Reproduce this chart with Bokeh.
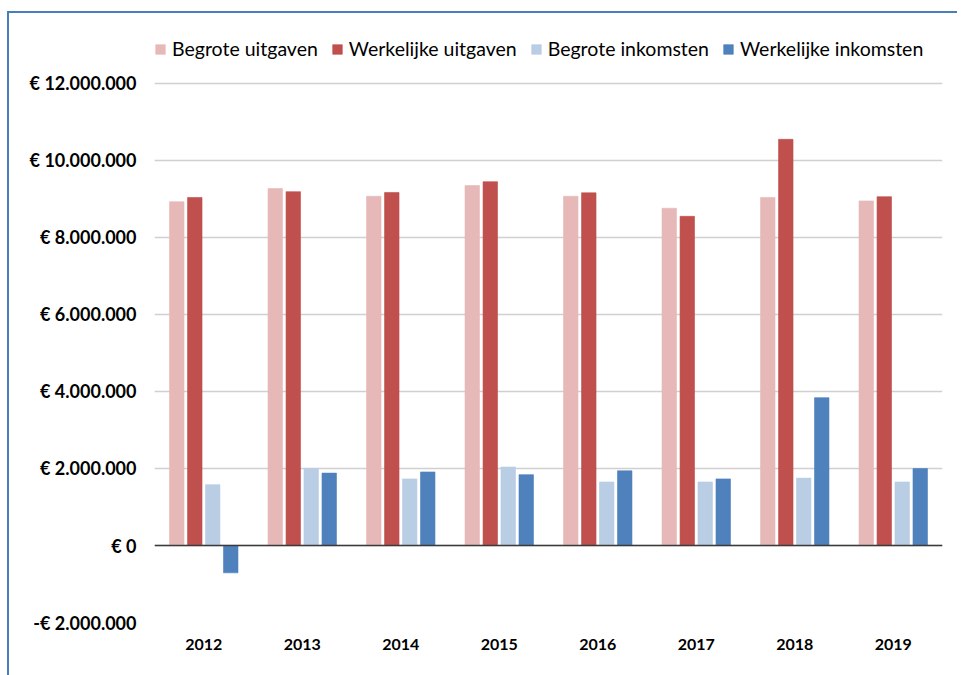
from bokeh.plotting import figure
from bokeh.models import Range1d, FactorRange, Legend, LegendItem, Span, FixedTicker, ColumnDataSource
from bokeh.transform import dodge
from bokeh.embed import file_html
from bokeh.resources import INLINE

years = ["2012", "2013", "2014", "2015", "2016", "2017", "2018", "2019"]
begrote_uitgaven = [8.93e6, 9.27e6, 9.07e6, 9.35e6, 9.07e6, 8.76e6, 9.04e6, 8.95e6]
werkelijke_uitgaven = [9.04e6, 9.19e6, 9.17e6, 9.45e6, 9.16e6, 8.55e6, 10.55e6, 9.06e6]
begrote_inkomsten = [1.58e6, 2.00e6, 1.73e6, 2.04e6, 1.65e6, 1.65e6, 1.75e6, 1.65e6]
werkelijke_inkomsten = [-0.71e6, 1.88e6, 1.91e6, 1.84e6, 1.94e6, 1.73e6, 3.84e6, 2.00e6]
series_labels = ["Begrote uitgaven", "Werkelijke uitgaven", "Begrote inkomsten", "Werkelijke inkomsten"]
tick_values = [-2e6, 0, 2e6, 4e6, 6e6, 8e6, 10e6, 12e6]
tick_labels = ["-€ 2.000.000", "€ 0", "€ 2.000.000", "€ 4.000.000", "€ 6.000.000",
               "€ 8.000.000", "€ 10.000.000", "€ 12.000.000"]

colors = ["#e6b9b8", "#c0504d", "#b9cde5", "#4f81bd"]
FONT = "Lato"

source = ColumnDataSource(dict(
    year=years, bu=begrote_uitgaven, wu=werkelijke_uitgaven,
    bi=begrote_inkomsten, wi=werkelijke_inkomsten))

p = figure(x_range=FactorRange(*years), y_range=Range1d(-2e6, 13.1948e6),
           width=950, height=664, output_backend="svg", toolbar_location=None,
           min_border_left=145, min_border_right=17, min_border_top=24, min_border_bottom=55)
p.styles = {"border-left": "2px solid #4a7ebb", "border-top": "2px solid #4a7ebb",
            "margin-top": "11px", "margin-left": "7px"}
p.outline_line_color = None
p.background_fill_color = "white"

offsets = [-0.274, -0.091, 0.091, 0.274]
fields = ["bu", "wu", "bi", "wi"]
renderers = []
for f, off, c in zip(fields, offsets, colors):
    r = p.vbar(x=dodge("year", off, range=p.x_range), top=f, bottom=0, width=0.147,
               source=source, fill_color=c, line_color=c, line_alpha=0.6)
    renderers.append(r)

p.xgrid.grid_line_color = None
p.ygrid.grid_line_color = "#d0d0d0"
p.ygrid.grid_line_width = 1.5
p.yaxis.ticker = FixedTicker(ticks=tick_values)
p.yaxis.major_label_overrides = {v: l for v, l in zip(tick_values, tick_labels)}
p.yaxis.axis_line_color = None
p.yaxis.major_tick_line_color = None
p.yaxis.minor_tick_line_color = None
p.yaxis.major_label_standoff = 12
p.yaxis.major_label_text_font = FONT
p.yaxis.major_label_text_font_style = "bold"
p.yaxis.major_label_text_font_size = "18px"
p.yaxis.major_label_text_color = "#000000"

p.xaxis.axis_line_color = None
p.xaxis.major_tick_line_color = None
p.xaxis.minor_tick_line_color = None
p.xaxis.major_label_standoff = 10
p.xaxis.major_label_text_font = FONT
p.xaxis.major_label_text_font_style = "bold"
p.xaxis.major_label_text_font_size = "16px"
p.xaxis.major_label_text_color = "#000000"

zero = Span(location=0, dimension="width", line_color="#3a3a3a", line_width=1.5)
p.add_layout(zero)

legend = Legend(items=[LegendItem(label=l, renderers=[r]) for l, r in zip(series_labels, renderers)],
                orientation="horizontal", location="top_left")
legend.margin = 0
legend.padding = 0
legend.spacing = 13
legend.glyph_width = 12
legend.glyph_height = 12
legend.label_standoff = 6
legend.label_height = 20
legend.label_text_font = FONT
legend.label_text_font_size = "19.5px"
legend.label_text_color = "#000000"
legend.background_fill_alpha = 0
legend.border_line_alpha = 0
p.add_layout(legend)

open("out.html", "w").write(file_html(p, INLINE))
